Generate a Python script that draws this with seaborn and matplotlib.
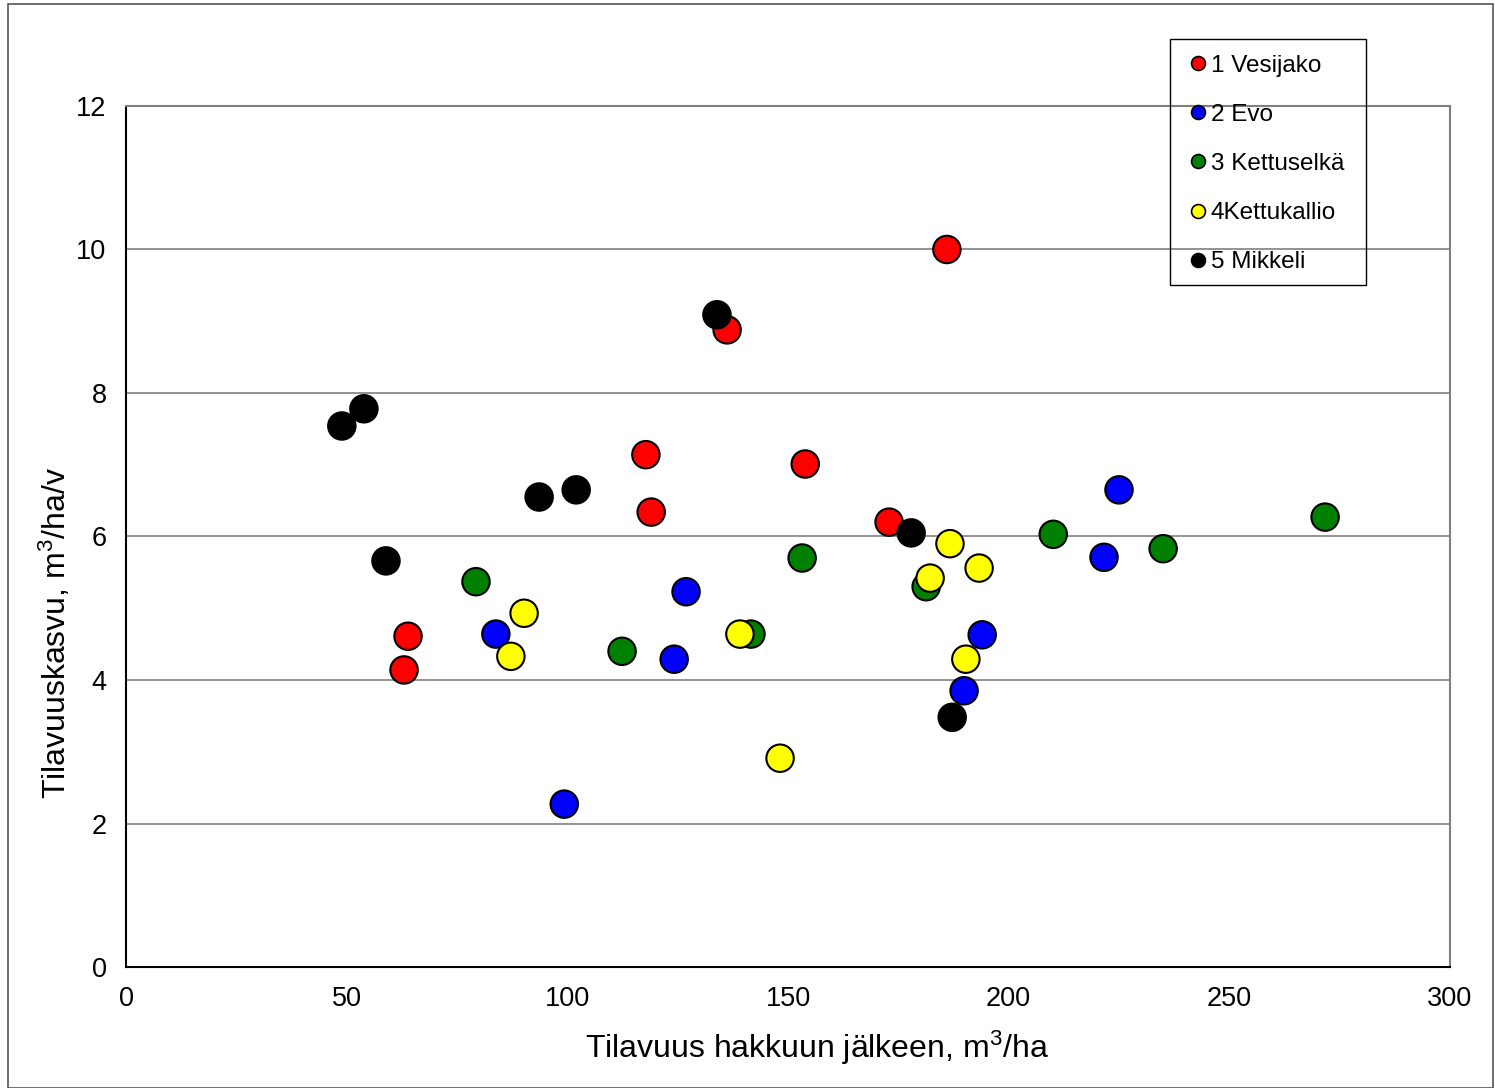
import numpy as np
import pandas as pd
import matplotlib.pyplot as plt
import seaborn as sns
from matplotlib.lines import Line2D
from matplotlib.patches import Rectangle

sns.set_style('white')
plt.rcParams['font.family'] = ['Liberation Sans', 'DejaVu Sans']
plt.rcParams['mathtext.default'] = 'regular'
plt.rcParams['text.color'] = 'black'
plt.rcParams['xtick.color'] = 'black'
plt.rcParams['ytick.color'] = 'black'

### Data

sarjat = ['1 Vesijako', '2 Evo', '3 Kettuselkä', '4Kettukallio', '5 Mikkeli']
varit = ['#ff0000', '#0000ff', '#008000', '#ffff00', '#000000']

vesijako_x = [186.0, 136.2, 117.8, 119.0, 153.9, 172.9, 63.9, 63.0]
vesijako_y = [10.0, 8.88, 7.14, 6.34, 7.01, 6.20, 4.61, 4.14]

evo_x = [83.8, 99.3, 124.2, 126.9, 189.9, 194.0, 221.6, 225.0]
evo_y = [4.64, 2.27, 4.29, 5.23, 3.85, 4.63, 5.71, 6.65]

kettuselka_x = [79.3, 112.4, 141.6, 153.2, 181.3, 210.1, 235.0, 271.7]
kettuselka_y = [5.37, 4.40, 4.64, 5.70, 5.30, 6.03, 5.83, 6.27]

kettukallio_x = [87.2, 90.2, 139.1, 148.2, 182.2, 186.7, 193.3, 190.3]
kettukallio_y = [4.33, 4.93, 4.64, 2.91, 5.42, 5.90, 5.56, 4.29]

mikkeli_x = [48.9, 53.9, 58.9, 93.6, 102.0, 133.9, 177.9, 187.2]
mikkeli_y = [7.54, 7.78, 5.66, 6.55, 6.65, 9.09, 6.05, 3.48]

x_ticks = [0, 50, 100, 150, 200, 250, 300]
y_ticks = [0, 2, 4, 6, 8, 10, 12]

xs = [vesijako_x, evo_x, kettuselka_x, kettukallio_x, mikkeli_x]
ys = [vesijako_y, evo_y, kettuselka_y, kettukallio_y, mikkeli_y]

df = pd.concat([pd.DataFrame({'x': x, 'y': y, 'sarja': s}) for x, y, s in zip(xs, ys, sarjat)],
               ignore_index=True)

fig = plt.figure(figsize=(14.95, 10.88), dpi=100)
ax = fig.add_axes([0.0843, 0.1112, 0.8856, 0.7914])

# chart area border
fig.patches.append(Rectangle((0.0054, 0.0), 0.993, 0.9963, transform=fig.transFigure,
                             fill=False, edgecolor='#555555', linewidth=1.2))

sns.scatterplot(data=df, x='x', y='y', hue='sarja', palette=dict(zip(sarjat, varit)),
                s=390, edgecolor='black', linewidth=1.5, legend=False, ax=ax, zorder=3)

ax.set_xlim(0, 300)
ax.set_ylim(0, 12)
ax.set_xticks(x_ticks)
ax.set_yticks(y_ticks)
ax.tick_params(axis='both', labelsize=19.5, direction='out', length=7, width=1.2,
               color='black', pad=7)
ax.yaxis.grid(True, color='#808080', linewidth=1.2)
ax.set_axisbelow(True)
ax.set_xlabel('')
ax.set_ylabel('')

for side in ['top', 'right']:
    ax.spines[side].set_color('#808080')
    ax.spines[side].set_linewidth(1.5)
for side in ['left', 'bottom']:
    ax.spines[side].set_color('black')
    ax.spines[side].set_linewidth(1.5)

# axis titles (Excel centres them a bit off the plot area)
fig.text(0.5465, 0.0368, 'Tilavuus hakkuun jälkeen, m$^3$/ha', fontsize=23,
         ha='center', va='center')
fig.text(0.0368, 0.418, 'Tilavuuskasvu, m$^3$/ha/v', fontsize=23,
         ha='center', va='center', rotation=90)

# legend box
fig.patches.append(Rectangle((1170 / 1495, 1 - 285 / 1088), 196 / 1495, 246 / 1088,
                             transform=fig.transFigure, fill=False,
                             edgecolor='black', linewidth=1.0))

kahvat = [Line2D([], [], marker='o', linestyle='', markersize=10, markerfacecolor=c,
                 markeredgecolor='black', markeredgewidth=1.2) for c in varit]
fig.legend(kahvat, sarjat, loc='upper left', bbox_to_anchor=(0.7965, 0.9499),
           fontsize=17.5, frameon=False, handlelength=0.6, handletextpad=0.23,
           labelspacing=1.12, borderpad=0, borderaxespad=0)

fig.savefig('out.png', dpi=100)
